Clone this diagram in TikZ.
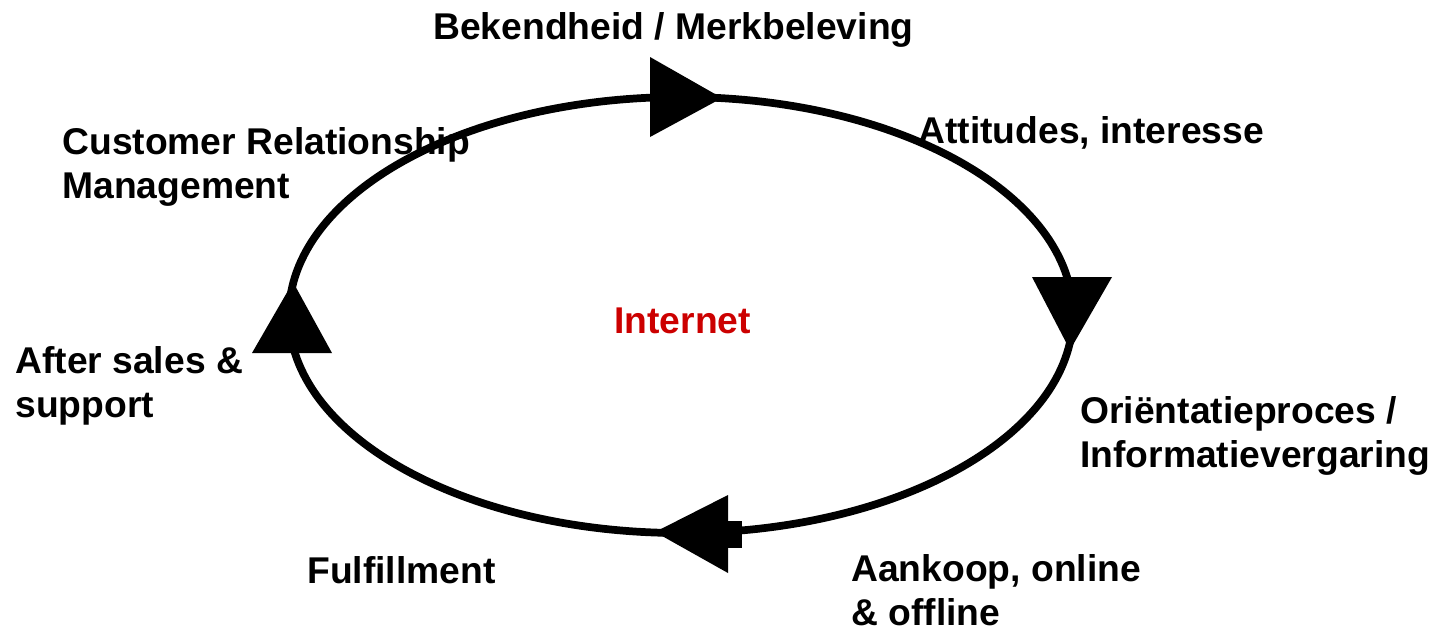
\documentclass[tikz,border=0pt]{standalone}
\usepackage{fontspec}
\setmainfont{Liberation Sans}
\usetikzlibrary{calc,shapes.geometric}
\definecolor{netred}{RGB}{204,0,0}

\begin{document}
\begin{tikzpicture}[x=0.02cm,y=-0.02cm,
    label/.style={inner sep=0pt,anchor=west,align=left,
        font=\fontsize{21.2}{25}\selectfont\bfseries},
    head/.style={fill=black}
]
\useasboundingbox (0,0) rectangle (1439,630);
% the cycle
\node[draw,line width=4.4pt,ellipse,inner sep=0pt,
    minimum width=784*0.02cm,minimum height=436*0.02cm] (cycle) at (681,315) {};
% arrow heads
\fill[head] (650,57) -- (722,98) -- (650,137) -- cycle;
\fill[head] (1032,277) -- (1112,277) -- (1070,350) -- cycle;
\fill[head] (728,495) -- (655,532) -- (728,573) -- cycle;
\fill[head] (728,521) rectangle (742,548);
\fill[head] (252,353) -- (293,282) -- (332,353) -- cycle;
% labels
\node[label] (aware) at (433,30) {Bekendheid / Merkbeleving};
\node[label] (attit) at (918,133) {Attitudes, interesse};
\node[label] (crm) at (62,167) {Customer Relationship\\Management};
\node[label,text=netred] (net) at (614,321) {Internet};
\node[label] (after) at (15,386) {After sales \&\\support};
\node[label] (orient) at (1080,436) {Oriëntatieproces /\\Informatievergaring};
\node[label] (fulfil) at (307,570) {Fulfillment};
\node[label] (buy) at (851,590) {Aankoop, online\\\& offline};
\end{tikzpicture}
\end{document}
